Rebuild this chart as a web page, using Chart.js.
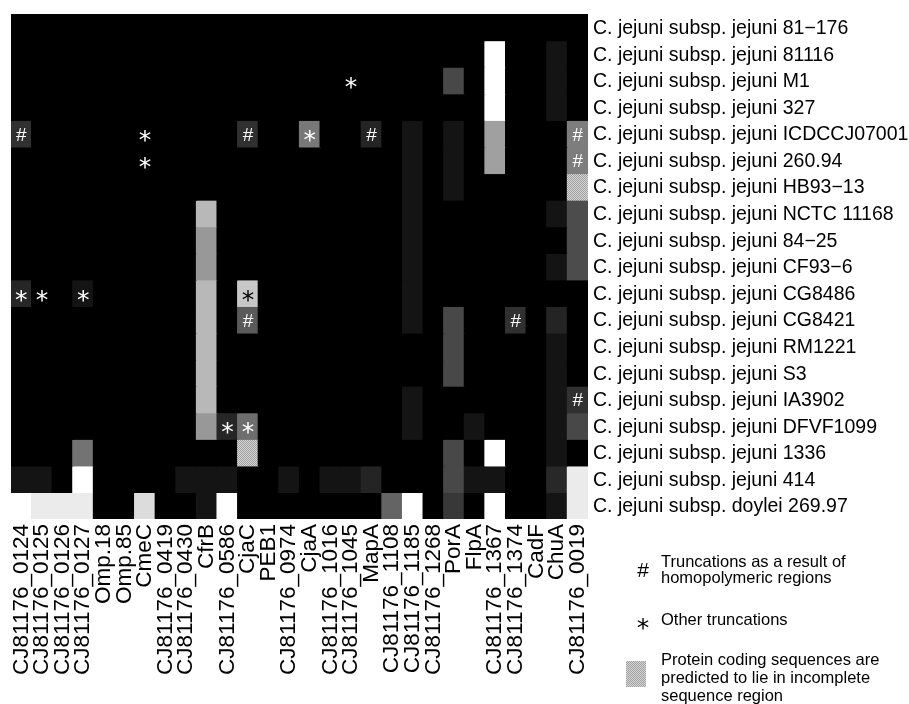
<!DOCTYPE html>
<html>
<head>
<meta charset="utf-8">
<script src="https://cdn.jsdelivr.net/npm/chart.js@4.4.1/dist/chart.umd.min.js"></script>
<style>
  html, body { margin: 0; padding: 0; background: #fff; }
  #wrap { width: 909px; height: 704px; position: relative; }
</style>
</head>
<body>
<div id="wrap"><canvas id="heat"></canvas></div>
<script>
const genes = [
  "CJ81176_0124", "CJ81176_0125", "CJ81176_0126", "CJ81176_0127", "Omp.18", "Omp.85",
  "CmeC", "CJ81176_0419", "CJ81176_0430", "CfrB", "CJ81176_0586", "CjaC", "PEB1",
  "CJ81176_0974", "CjaA", "CJ81176_1016", "CJ81176_1045", "MapA", "CJ81176_1108",
  "CJ81176_1185", "CJ81176_1268", "PorA", "FlpA", "CJ81176_1367", "CJ81176_1374",
  "CadF", "ChuA", "CJ81176_0019",
];

const strains = [
  "C. jejuni subsp. jejuni 81\u2212176",
  "C. jejuni subsp. jejuni 81116",
  "C. jejuni subsp. jejuni M1",
  "C. jejuni subsp. jejuni 327",
  "C. jejuni subsp. jejuni ICDCCJ07001",
  "C. jejuni subsp. jejuni 260.94",
  "C. jejuni subsp. jejuni HB93\u221213",
  "C. jejuni subsp. jejuni NCTC 11168",
  "C. jejuni subsp. jejuni 84\u221225",
  "C. jejuni subsp. jejuni CF93\u22126",
  "C. jejuni subsp. jejuni CG8486",
  "C. jejuni subsp. jejuni CG8421",
  "C. jejuni subsp. jejuni RM1221",
  "C. jejuni subsp. jejuni S3",
  "C. jejuni subsp. jejuni IA3902",
  "C. jejuni subsp. jejuni DFVF1099",
  "C. jejuni subsp. jejuni 1336",
  "C. jejuni subsp. jejuni 414",
  "C. jejuni subsp. doylei 269.97",
];

// grey level of each cell (0 = black, 255 = white), one row per strain
const grey = [
  [0,0,0,0,0,0,0,0,0,0, 0,0,0,0,0,0,0,0,0,0, 0,0,0,0,0,0,0,0],
  [0,0,0,0,0,0,0,0,0,0, 0,0,0,0,0,0,0,0,0,0, 0,0,0,255,0,0,20,0],
  [0,0,0,0,0,0,0,0,0,0, 0,0,0,0,0,0,0,0,0,0, 0,72,0,255,0,0,20,0],
  [0,0,0,0,0,0,0,0,0,0, 0,0,0,0,0,0,0,0,0,0, 0,0,0,255,0,0,20,0],
  [48,0,0,0,0,0,0,0,0,0, 0,48,0,0,120,0,0,36,0,20, 0,20,0,160,0,0,0,125],
  [0,0,0,0,0,0,0,0,0,0, 0,0,0,0,0,0,0,0,0,20, 0,20,0,160,0,0,0,125],
  [0,0,0,0,0,0,0,0,0,0, 0,0,0,0,0,0,0,0,0,20, 0,20,0,0,0,0,0,null],
  [0,0,0,0,0,0,0,0,0,184, 0,0,0,0,0,0,0,0,0,20, 0,0,0,0,0,0,20,76],
  [0,0,0,0,0,0,0,0,0,152, 0,0,0,0,0,0,0,0,0,20, 0,0,0,0,0,0,0,76],
  [0,0,0,0,0,0,0,0,0,152, 0,0,0,0,0,0,0,0,0,20, 0,0,0,0,0,0,20,76],
  [38,0,0,20,0,0,0,0,0,184, 0,200,0,0,0,0,0,0,0,20, 0,0,0,0,0,0,0,0],
  [0,0,0,0,0,0,0,0,0,184, 0,90,0,0,0,0,0,0,0,20, 0,72,0,0,48,0,36,0],
  [0,0,0,0,0,0,0,0,0,184, 0,0,0,0,0,0,0,0,0,0, 0,72,0,0,0,0,20,0],
  [0,0,0,0,0,0,0,0,0,184, 0,0,0,0,0,0,0,0,0,0, 0,72,0,0,0,0,20,0],
  [0,0,0,0,0,0,0,0,0,184, 0,0,0,0,0,0,0,0,0,20, 0,0,0,0,0,0,20,48],
  [0,0,0,0,0,0,0,0,0,152, 38,110,0,0,0,0,0,0,0,20, 0,0,20,0,0,0,20,72],
  [0,0,0,115,0,0,0,0,0,0, 0,null,0,0,0,0,0,0,0,0, 0,72,0,255,0,0,20,0],
  [20,20,0,255,0,0,0,0,20,20, 20,0,0,20,0,20,20,36,0,0, 0,72,20,20,0,0,40,235],
  [255,235,235,235,0,0,220,0,0,20, 255,0,0,0,0,0,0,0,100,255, 0,56,0,255,0,0,20,235],
];

// [strain row, gene column]
const hashCells = [[4, 0], [4, 11], [4, 17], [4, 27], [5, 27], [11, 11], [11, 24], [14, 27]];
const starCells = [[2, 16], [4, 6], [4, 14], [5, 6], [10, 0], [10, 1], [10, 3], [10, 11], [15, 10], [15, 11]];
const incompleteCells = [[6, 27], [16, 11]];

const FONT = '"Liberation Sans", Arial, Helvetica, sans-serif';
const STAR_FONT = '"DejaVu Sans", sans-serif';

function speckle() {
  const c = document.createElement("canvas");
  c.width = 2;
  c.height = 2;
  const g = c.getContext("2d");
  g.fillStyle = "#d4d4d4";
  g.fillRect(0, 0, 2, 2);
  g.fillStyle = "#a2a2a2";
  g.fillRect(0, 0, 1, 1);
  g.fillRect(1, 1, 1, 1);
  return g.createPattern(c, "repeat");
}
const SPECKLE = speckle();

const isIncomplete = (r, c) => incompleteCells.some(([a, b]) => a === r && b === c);

function cellFill(r, c) {
  if (isIncomplete(r, c)) return SPECKLE;
  const v = grey[r][c] || 0;
  return `rgb(${v},${v},${v})`;
}

const datasets = strains.map((name, r) => ({
  label: name,
  data: genes.map(() => 1),
  backgroundColor: genes.map((g, c) => cellFill(r, c)),
  borderWidth: 0,
  inflateAmount: 0.6,
  barPercentage: 1,
  categoryPercentage: 1,
  yAxisID: "y",
}));

const cellMarks = {
  id: "cellMarks",
  afterDatasetsDraw(chart) {
    const { ctx } = chart;
    const x = chart.scales.x;
    const y = chart.scales.y;
    ctx.save();
    ctx.textAlign = "center";
    ctx.textBaseline = "alphabetic";
    const put = (sym, r, c, font, lift) => {
      const v = grey[r][c] || 0;
      ctx.fillStyle = v > 150 ? "#000" : "#fff";
      ctx.font = font;
      ctx.fillText(sym, x.getPixelForValue(c), y.getPixelForValue(r + 0.5) + lift);
    };
    hashCells.forEach(([r, c]) => put("#", r, c, `19px ${FONT}`, 7));
    starCells.forEach(([r, c]) => put("*", r, c, `25px ${STAR_FONT}`, 14.5));
    ctx.restore();
  },
};

const keyBox = {
  id: "keyBox",
  afterDraw(chart) {
    const { ctx } = chart;
    ctx.save();
    ctx.fillStyle = "#000";
    ctx.textAlign = "center";
    ctx.textBaseline = "alphabetic";
    ctx.font = `21px ${FONT}`;
    ctx.fillText("#", 643, 577);
    ctx.font = `25px ${STAR_FONT}`;
    ctx.fillText("*", 643, 636);
    ctx.fillStyle = SPECKLE;
    ctx.fillRect(626, 661, 20, 26);
    ctx.fillStyle = "#000";
    ctx.textAlign = "left";
    ctx.font = `16.5px ${FONT}`;
    [
      ["Truncations as a result of", 567],
      ["homopolymeric regions", 583],
      ["Other truncations", 625],
      ["Protein coding sequences are", 665],
      ["predicted to lie in incomplete", 683],
      ["sequence region", 701],
    ].forEach(([t, ty]) => ctx.fillText(t, 661, ty));
    ctx.restore();
  },
};

new Chart(document.getElementById("heat"), {
  type: "bar",
  data: { labels: genes, datasets },
  options: {
    responsive: true,
    maintainAspectRatio: false,
    animation: false,
    layout: { padding: { left: 11, top: 14, right: 0, bottom: 0 } },
    plugins: { legend: { display: false }, tooltip: { enabled: false } },
    scales: {
      x: {
        stacked: true,
        offset: true,
        grid: { display: false, drawTicks: false },
        border: { display: false },
        ticks: {
          autoSkip: false,
          minRotation: 90,
          maxRotation: 90,
          padding: 5,
          color: "#000",
          font: { family: FONT, size: 22.5 },
        },
        afterFit(scale) {
          scale.height = 185;
          scale.paddingLeft = 0;
          scale.paddingRight = 0;
        },
      },
      y: {
        stacked: true,
        reverse: true,
        min: 0,
        max: strains.length,
        display: false,
      },
      // strain names, one per row; range nudged so the text sits on the row centres
      strainAxis: {
        axis: "y",
        type: "linear",
        position: "right",
        reverse: true,
        min: -0.55,
        max: 18.45,
        grid: { display: false, drawTicks: false },
        border: { display: false },
        afterBuildTicks(scale) {
          scale.ticks = strains.map((s, i) => ({ value: i }));
        },
        ticks: {
          autoSkip: false,
          padding: 5,
          color: "#000",
          font: { family: FONT, size: 19.5 },
          callback: (v) => strains[v],
        },
        afterFit(scale) {
          scale.width = 321;
          scale.paddingTop = 0;
          scale.paddingBottom = 0;
        },
      },
    },
  },
  plugins: [cellMarks, keyBox],
});
</script>
</body>
</html>
